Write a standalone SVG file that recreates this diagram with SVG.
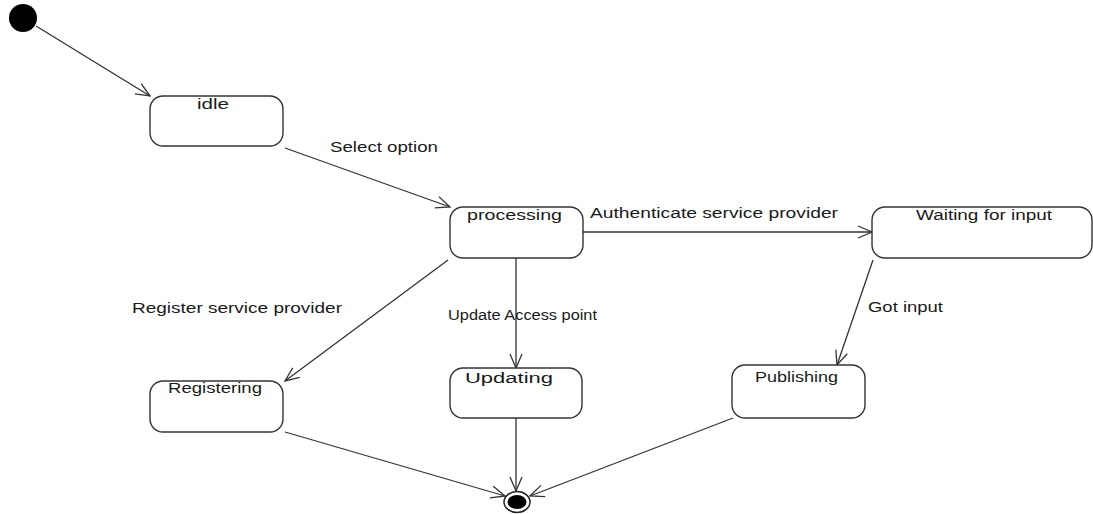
<svg xmlns="http://www.w3.org/2000/svg" width="1093" height="514" viewBox="0 0 1093 514">
  <style>
    .state { fill: #ffffff; stroke: #333333; stroke-width: 1.4; }
    .edge { fill: none; stroke: #333333; stroke-width: 1.3; }
    .lbl { font-family: "Liberation Sans", Arial, sans-serif; font-size: 14px; fill: #1a1a1a; }
  </style>
  <defs>
    <marker id="open" viewBox="0 0 16 14" refX="15" refY="7" markerWidth="16" markerHeight="14" markerUnits="userSpaceOnUse" orient="auto">
      <path d="M1,1 L15,7 L1,13" fill="none" stroke="#333333" stroke-width="1.3"/>
    </marker>
  </defs>
  <rect width="1093" height="514" fill="#ffffff"/>

  <!-- transitions -->
  <g id="connectors">
    <line class="edge" x1="36" y1="26" x2="150" y2="96" marker-end="url(#open)"/>
    <line class="edge" x1="285" y1="148" x2="450" y2="207" marker-end="url(#open)"/>
    <line class="edge" x1="583" y1="232" x2="872" y2="232" marker-end="url(#open)"/>
    <line class="edge" x1="448" y1="260" x2="285" y2="381" marker-end="url(#open)"/>
    <line class="edge" x1="516" y1="258" x2="516" y2="368" marker-end="url(#open)"/>
    <line class="edge" x1="873" y1="260" x2="837" y2="365" marker-end="url(#open)"/>
    <line class="edge" x1="285" y1="432" x2="505" y2="496" marker-end="url(#open)"/>
    <line class="edge" x1="516" y1="418" x2="516" y2="491" marker-end="url(#open)"/>
    <line class="edge" x1="733" y1="418" x2="530" y2="496" marker-end="url(#open)"/>
    <text class="lbl" x="330" y="152" textLength="108" lengthAdjust="spacingAndGlyphs">Select option</text>
    <text class="lbl" x="590" y="218" textLength="248" lengthAdjust="spacingAndGlyphs">Authenticate service provider</text>
    <text class="lbl" x="132" y="313" textLength="210" lengthAdjust="spacingAndGlyphs">Register service provider</text>
    <text class="lbl" x="448" y="320" textLength="149" lengthAdjust="spacingAndGlyphs">Update Access point</text>
    <text class="lbl" x="868" y="312" textLength="75" lengthAdjust="spacingAndGlyphs">Got input</text>
  </g>

  <g id="initial">
    <circle cx="23" cy="18" r="14" fill="#000000"/>
  </g>

  <g id="idle">
    <rect class="state" x="150" y="96" width="133" height="50" rx="13"/>
    <text class="lbl" x="197" y="109" textLength="32" lengthAdjust="spacingAndGlyphs">idle</text>
  </g>

  <g id="processing">
    <rect class="state" x="450" y="207" width="133" height="51" rx="13"/>
    <text class="lbl" x="467" y="220" textLength="95" lengthAdjust="spacingAndGlyphs">processing</text>
  </g>

  <g id="waiting">
    <rect class="state" x="872" y="207" width="220" height="51" rx="13"/>
    <text class="lbl" x="916" y="220" textLength="136" lengthAdjust="spacingAndGlyphs">Waiting for input</text>
  </g>

  <g id="registering">
    <rect class="state" x="150" y="381" width="133" height="51" rx="13"/>
    <text class="lbl" x="168" y="393" textLength="94" lengthAdjust="spacingAndGlyphs">Registering</text>
  </g>

  <g id="updating">
    <rect class="state" x="450" y="368" width="132" height="50" rx="13"/>
    <text class="lbl" x="465" y="383" textLength="88" lengthAdjust="spacingAndGlyphs">Updating</text>
  </g>

  <g id="publishing">
    <rect class="state" x="732" y="365" width="133" height="53" rx="13"/>
    <text class="lbl" x="755" y="382" textLength="83" lengthAdjust="spacingAndGlyphs">Publishing</text>
  </g>

  <g id="final">
    <ellipse cx="517" cy="502" rx="13" ry="10.5" fill="#ffffff" stroke="#222222" stroke-width="1.5"/>
    <ellipse cx="517" cy="502" rx="9.5" ry="7" fill="#000000"/>
  </g>
</svg>
